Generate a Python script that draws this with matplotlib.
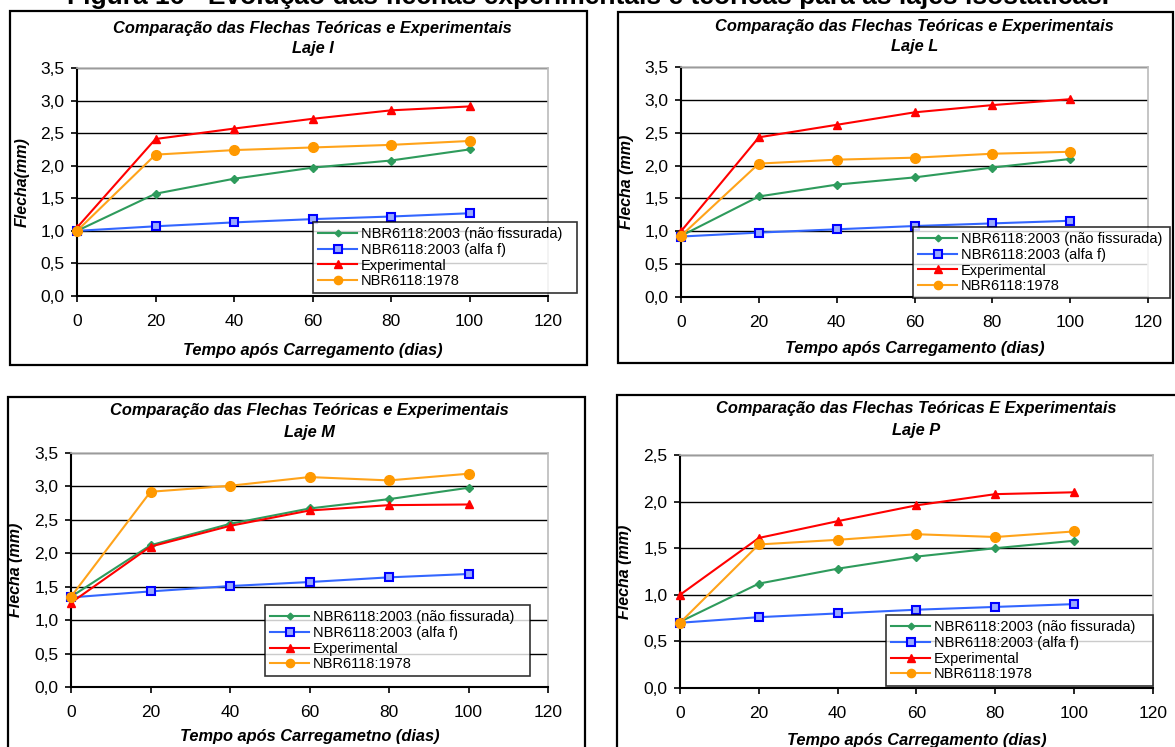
import matplotlib
matplotlib.use("Agg")
import matplotlib.pyplot as plt
from matplotlib.patches import Rectangle

plt.rcParams['font.family'] = ['Liberation Sans', 'DejaVu Sans']

dias = [0, 20, 40, 60, 80, 100]
series_names = ["NBR6118:2003 (não fissurada)", "NBR6118:2003 (alfa f)",
                "Experimental", "NBR6118:1978"]

# Laje I
laje_i_nao_fiss = [1.00, 1.57, 1.80, 1.97, 2.08, 2.25]
laje_i_alfa_f = [1.00, 1.07, 1.13, 1.18, 1.22, 1.27]
laje_i_exp = [1.05, 2.41, 2.57, 2.72, 2.85, 2.91]
laje_i_1978 = [1.00, 2.17, 2.24, 2.28, 2.32, 2.38]
# Laje L
laje_l_nao_fiss = [0.93, 1.53, 1.71, 1.82, 1.97, 2.10]
laje_l_alfa_f = [0.92, 0.98, 1.03, 1.08, 1.12, 1.16]
laje_l_exp = [1.00, 2.43, 2.62, 2.81, 2.92, 3.01]
laje_l_1978 = [0.93, 2.03, 2.09, 2.12, 2.18, 2.21]
# Laje M
laje_m_nao_fiss = [1.35, 2.12, 2.44, 2.67, 2.81, 2.98]
laje_m_alfa_f = [1.34, 1.43, 1.51, 1.57, 1.64, 1.69]
laje_m_exp = [1.26, 2.10, 2.41, 2.64, 2.72, 2.73]
laje_m_1978 = [1.35, 2.92, 3.01, 3.14, 3.09, 3.19]
# Laje P
laje_p_nao_fiss = [0.71, 1.12, 1.28, 1.41, 1.50, 1.58]
laje_p_alfa_f = [0.70, 0.76, 0.80, 0.84, 0.87, 0.90]
laje_p_exp = [1.00, 1.61, 1.79, 1.96, 2.08, 2.10]
laje_p_1978 = [0.70, 1.54, 1.59, 1.65, 1.62, 1.68]

W, H = 1175, 747
fig = plt.figure(figsize=(W / 100, H / 100), dpi=100)


def fx(x):
    return x / W


def fy(y):
    return 1 - y / H


fig.text(fx(588), fy(4), "Figura 16 - Evolução das flechas experimentais e teóricas para as lajes isostáticas.",
         ha='center', va='baseline', fontsize=19, fontweight='bold')

panels = [
    dict(frame=(10, 11, 587, 365), ax=(77, 68, 548, 296), ymax=3.5,
         title="Comparação das Flechas Teóricas e Experimentais", sub="Laje I",
         ty=28, sy=49, ylabel="Flecha(mm)", xlabel="Tempo após Carregamento (dias)", xly=350,
         leg=(313, 222, 577, 293),
         data=[laje_i_nao_fiss, laje_i_alfa_f, laje_i_exp, laje_i_1978]),
    dict(frame=(618, 12, 1173, 363), ax=(681, 67, 1148, 297), ymax=3.5,
         title="Comparação das Flechas Teóricas e Experimentais", sub="Laje L",
         ty=26, sy=47, ylabel="Flecha (mm)", xlabel="Tempo após Carregamento (dias)", xly=349,
         leg=(913, 227, 1170, 294),
         data=[laje_l_nao_fiss, laje_l_alfa_f, laje_l_exp, laje_l_1978]),
    dict(frame=(8, 397, 585, 760), ax=(71, 453, 548, 687), ymax=3.5,
         title="Comparação das Flechas Teóricas e Experimentais", sub="Laje M",
         ty=411, sy=433, ylabel="Flecha (mm)", xlabel="Tempo após Carregametno (dias)", xly=737,
         leg=(265, 605, 530, 673),
         data=[laje_m_nao_fiss, laje_m_alfa_f, laje_m_exp, laje_m_1978]),
    dict(frame=(617, 395, 1185, 760), ax=(680, 455, 1153, 688), ymax=2.5,
         title="Comparação das Flechas Teóricas E Experimentais", sub="Laje P",
         ty=408, sy=430, ylabel="Flecha (mm)", xlabel="Tempo após Carregamento (dias)", xly=740,
         leg=(886, 615, 1153, 683),
         data=[laje_p_nao_fiss, laje_p_alfa_f, laje_p_exp, laje_p_1978]),
]

styles = [
    dict(color='#2e9b5c', marker='D', ms=4, mfc='#2e9b5c', mec='#2e9b5c'),
    dict(color='#3366ff', marker='s', ms=6, mfc='#99aaff', mec='#0000ff', mew=1.5),
    dict(color='#ff0000', marker='^', ms=6, mfc='#ff0000', mec='#ff0000'),
    dict(color='#ffa31a', marker='o', ms=7, mfc='#ff9900', mec='#ff9900'),
]

for p in panels:
    l, t, r, b = p['frame']
    fig.patches.append(Rectangle((fx(l), fy(b)), fx(r - l), (b - t) / H,
                                 transform=fig.transFigure, fill=False,
                                 edgecolor='black', lw=1.6, zorder=0))
    x0, y0, x1, y1 = p['ax']
    ax = fig.add_axes([fx(x0), fy(y1), fx(x1 - x0), (y1 - y0) / H])
    handles = []
    for vals, st, name in zip(p['data'], styles, series_names):
        h, = ax.plot(dias, vals, lw=1.5, label=name, clip_on=False, zorder=3, **st)
        handles.append(h)
    ax.set_xlim(0, 120)
    ax.set_ylim(0, p['ymax'])
    ax.set_xticks(range(0, 121, 20))
    yt = [i * 0.5 for i in range(int(p['ymax'] / 0.5) + 1)]
    ax.set_yticks(yt)
    ax.set_yticklabels([f"{v:.1f}".replace('.', ',') for v in yt])
    ax.yaxis.grid(True, color='black', lw=1.0)
    ax.set_axisbelow(True)
    for s in ['top', 'right']:
        ax.spines[s].set_color('#bbbbbb')
        ax.spines[s].set_linewidth(1.2)
    for s in ['left', 'bottom']:
        ax.spines[s].set_color('black')
        ax.spines[s].set_linewidth(1.5)
    ax.tick_params(axis='both', direction='out', length=4, width=1.2, labelsize=12.5, pad=5)
    ax.tick_params(axis='x', pad=9)
    cx = (x0 + x1) / 2
    fig.text(fx(cx), fy(p['ty']), p['title'], ha='center', va='center',
             fontsize=11.8, fontweight='bold', style='italic')
    fig.text(fx(cx), fy(p['sy']), p['sub'], ha='center', va='center',
             fontsize=11.8, fontweight='bold', style='italic')
    fig.text(fx(cx), fy(p['xly']), p['xlabel'], ha='center', va='center',
             fontsize=11.8, fontweight='bold', style='italic')
    fig.text(fx(x0 - 55), fy((y0 + y1) / 2), p['ylabel'], ha='center', va='center',
             rotation=90, fontsize=11.5, fontweight='bold', style='italic')
    ll, lt, lr, lb = p['leg']
    leg = fig.legend(handles=handles, loc='upper left',
                     bbox_to_anchor=(fx(ll), fy(lb), fx(lr - ll), (lb - lt) / H),
                     bbox_transform=fig.transFigure, mode='expand',
                     fontsize=10.5, frameon=True, fancybox=False, borderaxespad=0,
                     handlelength=2.7, handletextpad=0.25, labelspacing=0.12,
                     borderpad=0.35, markerscale=0.85)
    leg.get_frame().set_edgecolor('black')
    leg.get_frame().set_linewidth(1.2)
    leg.set_zorder(5)

fig.savefig("out.png", dpi=100)
